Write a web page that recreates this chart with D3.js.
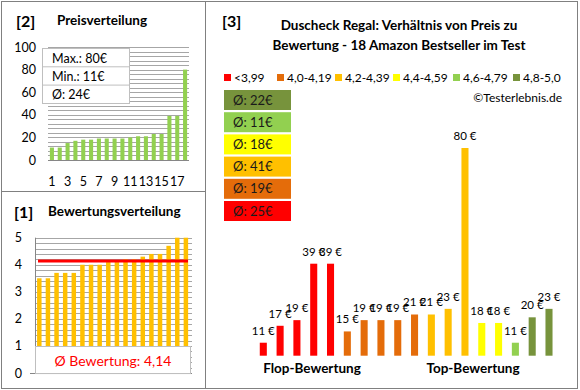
<!DOCTYPE html>
<html>
<head>
<meta charset="utf-8">
<script src="https://cdn.jsdelivr.net/npm/d3@7"></script>
<style>
  body { margin: 0; background: #fff; }
  svg { display: block; font-family: Lato, 'Open Sans', sans-serif; }
</style>
</head>
<body>
<svg id="chart" width="580" height="390"></svg>
<script>
// Data
const prices = [11, 17, 19, 39, 39, 15, 19, 19, 19, 21, 21, 23, 80, 18, 18, 11, 20, 23];
const ratings = [3.5, 3.5, 3.7, 3.7, 3.7, 4.0, 4.0, 4.0, 4.1, 4.1, 4.2, 4.2, 4.3, 4.4, 4.4, 4.7, 5.0, 5.0];
const ratingCats = [0, 0, 0, 0, 0, 1, 1, 1, 1, 1, 2, 2, 2, 3, 3, 4, 5, 5];
const catLabels = ['<3,99', '4,0-4,19', '4,2-4,39', '4,4-4,59', '4,6-4,79', '4,8-5,0'];
const catColors = ['#ff0000', '#e46c0a', '#ffc000', '#ffff00', '#92d050', '#77933c'];
const avgPrices = [25, 19, 41, 18, 11, 22];  // per category
const priceTicks = [0, 20, 40, 60, 80, 100];
const priceXTicks = [1, 3, 5, 7, 9, 11, 13, 15, 17];
const ratingTicks = [0, 1, 2, 3, 4, 5];
const priceInfo = ['Max.: 80€', 'Min.: 11€', 'Ø: 24€'];
const avgRating = '4,14';

const svg = d3.select('#chart');
const grid = '#a6a6a6';

// band scale whose outer padding is half the gap, like the Excel columns
function band(n, range, gap) {
  return d3.scaleBand().domain(d3.range(n)).range(range)
    .paddingInner(gap).paddingOuter(gap / 2);
}

// Frame
svg.append('rect').attr('x', 1.5).attr('y', 1.5).attr('width', 576).attr('height', 387)
  .attr('fill', 'none').attr('stroke', '#808080');
svg.append('line').attr('x1', 205.5).attr('x2', 205.5).attr('y1', 1.5).attr('y2', 388.5)
  .attr('stroke', '#808080');
svg.append('line').attr('x1', 1.5).attr('x2', 205.5).attr('y1', 191.5).attr('y2', 191.5)
  .attr('stroke', '#808080');

// ---------- [2] Preisverteilung ----------
const p = svg.append('g');
p.append('text').attr('x', 16).attr('y', 27).attr('font-size', 16).attr('font-weight', 'bold').text('[2]');
p.append('text').attr('x', 57).attr('y', 25).attr('font-size', 13.5).attr('font-weight', 'bold').text('Preisverteilung');

const sortedPrices = prices.slice().sort((a, b) => a - b);
const px = band(18, [48, 189], 0.48);
const py = d3.scaleLinear().domain([0, 100]).range([160, 47]);

p.append('g').selectAll('line').data(d3.range(4, 101, 4)).join('line')
  .attr('x1', 48).attr('x2', 189)
  .attr('y1', (d) => Math.round(py(d)) + 0.5).attr('y2', (d) => Math.round(py(d)) + 0.5)
  .attr('stroke', grid);
p.append('line').attr('x1', 48).attr('x2', 189).attr('y1', py(0) + 0.5).attr('y2', py(0) + 0.5)
  .attr('stroke', '#868686');

p.append('g').selectAll('rect').data(sortedPrices).join('rect')
  .attr('x', (d, i) => px(i)).attr('width', px.bandwidth())
  .attr('y', (d) => py(d)).attr('height', (d) => py(0) - py(d))
  .attr('fill', '#92d050');

p.append('g').selectAll('text').data(priceTicks).join('text')
  .attr('x', 36).attr('y', (d) => py(d) + 4.5).attr('text-anchor', 'end')
  .attr('font-size', 12.5).text((d) => d);
p.append('g').selectAll('text').data(priceXTicks).join('text')
  .attr('x', (d) => px(d - 1) + px.bandwidth() / 2).attr('y', 186).attr('text-anchor', 'middle')
  .attr('font-size', 12.5).text((d) => d);

// info box
const info = p.append('g');
info.append('rect').attr('x', 42.5).attr('y', 48.5).attr('width', 87).attr('height', 55)
  .attr('fill', '#fff').attr('stroke', '#bfbfbf');
priceInfo.forEach((t, i) => {
  if (i > 0) {
    info.append('line').attr('x1', 42.5).attr('x2', 129.5)
      .attr('y1', 48.5 + i * 18.3).attr('y2', 48.5 + i * 18.3).attr('stroke', '#bfbfbf');
  }
  info.append('text').attr('x', 52).attr('y', 62.5 + i * 18.3).attr('font-size', 12.5).text(t);
});

// ---------- [1] Bewertungsverteilung ----------
const b = svg.append('g');
b.append('text').attr('x', 14).attr('y', 218).attr('font-size', 16).attr('font-weight', 'bold').text('[1]');
b.append('text').attr('x', 48).attr('y', 216).attr('font-size', 13.5).attr('font-weight', 'bold').text('Bewertungsverteilung');

const bx = band(18, [35, 190.2], 0.48);
const by = d3.scaleLinear().domain([0, 5]).range([373, 237.7]);

b.append('g').selectAll('line').data(d3.range(1, 26).map((d) => d / 5)).join('line')
  .attr('x1', 35).attr('x2', 192)
  .attr('y1', (d) => Math.round(by(d)) + 0.5).attr('y2', (d) => Math.round(by(d)) + 0.5)
  .attr('stroke', grid);
b.append('line').attr('x1', 35.5).attr('x2', 35.5).attr('y1', by(5)).attr('y2', by(0))
  .attr('stroke', '#868686');
b.append('line').attr('x1', 30).attr('x2', 192).attr('y1', Math.round(by(0)) + 0.5).attr('y2', Math.round(by(0)) + 0.5)
  .attr('stroke', '#868686');

b.append('g').selectAll('rect').data(ratings).join('rect')
  .attr('x', (d, i) => bx(i)).attr('width', bx.bandwidth())
  .attr('y', (d) => by(d)).attr('height', (d) => by(0) - by(d))
  .attr('fill', '#ffc000');

b.append('line').attr('x1', 38).attr('x2', 188)
  .attr('y1', by(4.14)).attr('y2', by(4.14))
  .attr('stroke', '#ff0000').attr('stroke-width', 3);

b.append('g').selectAll('text').data(ratingTicks).join('text')
  .attr('x', 22).attr('y', (d) => by(d) + 4.5).attr('text-anchor', 'end')
  .attr('font-size', 12.5).text((d) => d);

b.append('rect').attr('x', 35.5).attr('y', Math.round(by(1)) + 0.5).attr('width', 155)
  .attr('height', by(0) - by(1)).attr('fill', '#fff').attr('stroke', '#bfbfbf');
b.append('text').attr('x', 113).attr('y', 366).attr('text-anchor', 'middle')
  .attr('font-size', 14).attr('fill', '#ff0000').text('Ø Bewertung: ' + avgRating);

// ---------- [3] Preis zu Bewertung ----------
const r = svg.append('g');
r.append('text').attr('x', 222).attr('y', 27).attr('font-size', 16).attr('font-weight', 'bold').text('[3]');
r.append('text').attr('x', 399).attr('y', 30).attr('text-anchor', 'middle').attr('font-size', 13.5)
  .attr('font-weight', 'bold').text('Duscheck Regal: Verhältnis von Preis zu');
r.append('text').attr('x', 399).attr('y', 50).attr('text-anchor', 'middle').attr('font-size', 13.5)
  .attr('font-weight', 'bold').text('Bewertung - 18 Amazon Bestseller im Test');

// legend
const legendX = [224, 277, 335, 393, 453, 513];
const lg = r.append('g').selectAll('g').data(catLabels).join('g')
  .attr('transform', (d, i) => 'translate(' + legendX[i] + ',78)');
lg.append('rect').attr('x', 0).attr('y', -4).attr('width', 7).attr('height', 7)
  .attr('fill', (d, i) => catColors[i]);
lg.append('text').attr('x', 10).attr('y', 3.5).attr('font-size', 12).text((d) => d);

r.append('text').attr('x', 562).attr('y', 102).attr('text-anchor', 'end').attr('font-size', 12)
  .text('©Testerlebnis.de');

// category averages, top = best
const avgBoxes = r.append('g').selectAll('g').data(d3.range(5, -1, -1)).join('g')
  .attr('transform', (d, i) => 'translate(224,' + (90 + i * 22.2) + ')');
avgBoxes.append('rect').attr('width', 67).attr('height', 20).attr('fill', (d) => catColors[d]);
avgBoxes.append('text').attr('x', 9).attr('y', 14.5).attr('font-size', 13).attr('fill', '#1a1a1a')
  .text((d) => 'Ø: ' + avgPrices[d] + '€');

const rx = band(18, [254.9, 557.4], 0.58);
const ry = d3.scaleLinear().domain([6.4, 80]).range([355.7, 148]);

r.append('g').selectAll('rect').data(prices).join('rect')
  .attr('x', (d, i) => rx(i)).attr('width', rx.bandwidth())
  .attr('y', (d) => ry(d)).attr('height', (d) => ry(6.4) - ry(d))
  .attr('fill', (d, i) => catColors[ratingCats[i]]);

r.append('g').selectAll('text').data(prices).join('text')
  .attr('x', (d, i) => rx(i) + rx.bandwidth() / 2).attr('y', (d) => ry(d) - 8)
  .attr('text-anchor', 'middle').attr('font-size', 11.5).text((d) => d + ' €');

r.append('text').attr('x', 312).attr('y', 373).attr('text-anchor', 'middle').attr('font-size', 13.5)
  .attr('font-weight', 'bold').text('Flop-Bewertung');
r.append('text').attr('x', 473).attr('y', 373).attr('text-anchor', 'middle').attr('font-size', 13.5)
  .attr('font-weight', 'bold').text('Top-Bewertung');
</script>
</body>
</html>
